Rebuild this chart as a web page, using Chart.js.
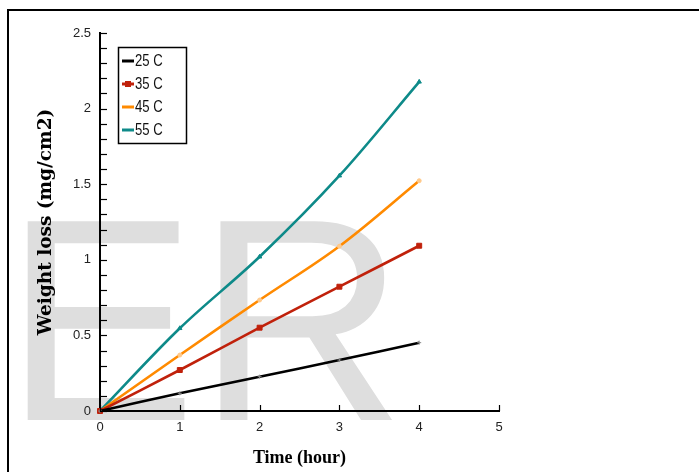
<!DOCTYPE html>
<html><head><meta charset="utf-8">
<script src="https://cdn.jsdelivr.net/npm/chart.js@4"></script>
<style>html,body{margin:0;padding:0;background:#fff;overflow:hidden}#wrap{position:relative;width:699px;height:472px}</style>
</head><body><div id="wrap"><canvas id="c" width="699" height="472"></canvas></div>
<script>
const times = [0, 1, 2, 3, 4];
const seriesNames = ['25 C', '35 C', '45 C', '55 C'];
const loss25 = [0, 0.117, 0.227, 0.337, 0.452];
const loss35 = [0, 0.271, 0.551, 0.822, 1.093];
const loss45 = [0, 0.37, 0.734, 1.09, 1.523];
const loss55 = [0, 0.547, 1.02, 1.556, 2.177];
const yTickLabels = ['0', '0.5', '1', '1.5', '2', '2.5'];
const xTickLabels = ['0', '1', '2', '3', '4', '5'];
const watermarkText = 'ER';

const toPts = arr => times.map((t, i) => ({x: t, y: arr[i]}));
const styles = [
  {color: '#000000', pColor: '#888888', pStyle: 'cross', r: 2},
  {color: '#c0210b', pColor: '#c0210b', pStyle: 'rect', r: 3.5},
  {color: '#ff8a00', pColor: '#ffc98a', pStyle: 'circle', r: 2},
  {color: '#0e8a89', pColor: '#0e8a89', pStyle: 'triangle', r: 2.5}
];
const allSeries = [loss25, loss35, loss45, loss55];

const datasets = allSeries.map((s, i) => ({
  label: seriesNames[i],
  data: toPts(s),
  borderColor: styles[i].color,
  backgroundColor: styles[i].pColor,
  pointBorderColor: styles[i].pColor,
  pointBackgroundColor: styles[i].pColor,
  pointStyle: styles[i].pStyle,
  pointRadius: styles[i].r,
  pointBorderWidth: 1,
  borderWidth: 2.6,
  tension: 0.35,
  clip: false
}));

const bgPlugin = {
  id: 'bg',
  beforeDraw(chart) {
    const ctx = chart.ctx;
    ctx.save();
    ctx.fillStyle = '#dedede';
    ctx.font = '289px "Liberation Sans"';
    ctx.textBaseline = 'alphabetic';
    ctx.textAlign = 'left';
    ctx.fillText(watermarkText, 4, 420);
    ctx.fillStyle = '#000';
    ctx.fillRect(7, 9, 692, 2);
    ctx.fillRect(7, 9, 2, 463);
    ctx.restore();
  }
};

const ticksPlugin = {
  id: 'inTicks',
  afterDatasetsDraw(chart) {
    const ctx = chart.ctx;
    const xs = chart.scales.x, ys = chart.scales.y;
    const ca = chart.chartArea;
    ctx.save();
    ctx.strokeStyle = '#000';
    ctx.lineWidth = 1.2;
    ys.ticks.forEach(t => {
      const y = Math.round(ys.getPixelForValue(t.value)) + 0.5;
      ctx.beginPath(); ctx.moveTo(ca.left, y); ctx.lineTo(ca.left + 7, y); ctx.stroke();
    });
    xs.ticks.forEach(t => {
      const x = Math.round(xs.getPixelForValue(t.value)) + 0.5;
      ctx.beginPath(); ctx.moveTo(x, ca.bottom); ctx.lineTo(x, ca.bottom - 6); ctx.stroke();
    });
    ctx.restore();
  }
};

const legendPlugin = {
  id: 'boxLegend',
  afterDraw(chart) {
    const ctx = chart.ctx;
    ctx.save();
    ctx.fillStyle = '#fff';
    ctx.fillRect(118.5, 47.5, 68, 96);
    ctx.strokeStyle = '#000';
    ctx.lineWidth = 1.5;
    ctx.strokeRect(118.5, 47.5, 68, 96);
    chart.data.datasets.forEach((ds, i) => {
      const y = 61 + i * 23;
      ctx.strokeStyle = ds.borderColor;
      ctx.lineWidth = 3;
      ctx.beginPath(); ctx.moveTo(122, y); ctx.lineTo(134, y); ctx.stroke();
      if (ds.pointStyle === 'rect') {
        ctx.fillStyle = ds.pointBackgroundColor;
        ctx.fillRect(125, y - 3, 6, 6);
      }
      ctx.save();
      ctx.translate(135, y);
      ctx.scale(0.82, 1);
      ctx.fillStyle = '#111';
      ctx.font = '16px "Liberation Sans"';
      ctx.textBaseline = 'middle';
      ctx.textAlign = 'left';
      ctx.fillText(ds.label, 0, 1);
      ctx.restore();
    });
    ctx.restore();
  }
};

new Chart(document.getElementById('c'), {
  type: 'line',
  data: {datasets},
  plugins: [bgPlugin, ticksPlugin, legendPlugin],
  options: {
    responsive: false,
    animation: false,
    layout: {padding: {left: 0, top: 33, right: 200, bottom: 0}},
    plugins: {legend: {display: false}, tooltip: {enabled: false}},
    scales: {
      x: {
        type: 'linear', min: 0, max: 5,
        afterFit: s => { s.height = 61; },
        grid: {display: true, drawOnChartArea: false, drawTicks: false},
        border: {display: true, color: '#000', width: 2},
        ticks: {stepSize: 1, padding: 9, color: '#222', font: {family: 'Liberation Sans', size: 13},
          autoSkip: false, maxRotation: 0, callback: v => xTickLabels[Math.round(v)]},
        title: {display: true, text: 'Time (hour)', color: '#000',
          font: {family: 'Liberation Serif', size: 18, weight: 'bold', lineHeight: 1},
          padding: {top: 0, bottom: 5}}
      },
      y: {
        type: 'linear', min: 0, max: 2.5,
        afterFit: s => { s.width = 100; },
        grid: {display: true, drawOnChartArea: false, drawTicks: false},
        border: {display: true, color: '#000', width: 2},
        ticks: {stepSize: 0.1, maxTicksLimit: 100, autoSkip: false, padding: 9, color: '#222',
          font: {family: 'Liberation Sans', size: 13},
          callback: v => { const k = Math.round(v * 10); return k % 5 === 0 ? yTickLabels[k / 5] : ''; }},
        title: {display: true, text: 'Weight loss (mg/cm2)', color: '#000',
          font: {family: 'DejaVu Serif', size: 18.5, weight: 'bold', lineHeight: 1},
          padding: {top: 36.75, bottom: 0}}
      }
    }
  }
});
</script></body></html>
